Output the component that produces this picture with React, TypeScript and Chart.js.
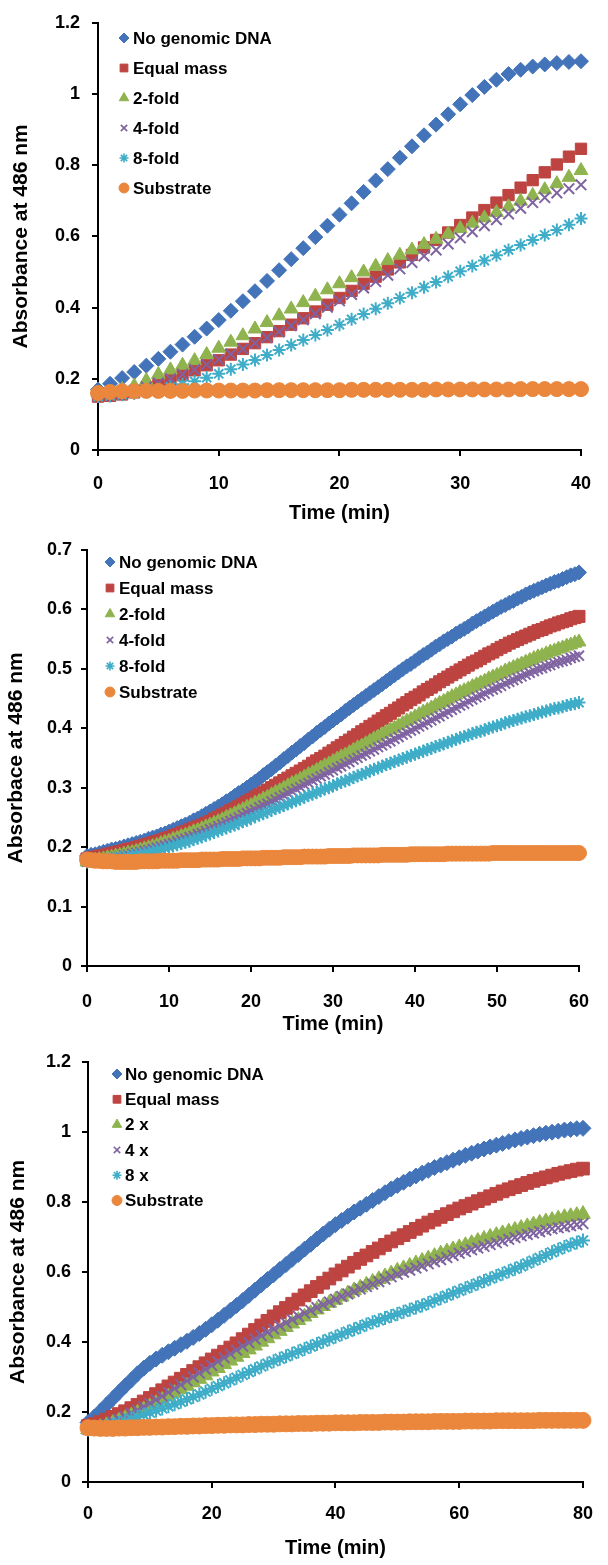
import React, { useEffect, useRef } from "react";
import { Chart, registerables } from "chart.js";
import { drawPoint } from "chart.js/helpers";

Chart.register(...registerables);

const FONT = '"Liberation Sans", Arial, Helvetica, sans-serif';

// ---------- Panel 1: 0–40 min, one reading per minute ----------
const P1_TIME = Array.from({ length: 41 }, (_, i) => i);
const P1_NO_DNA = [.170, .186, .202, .219, .237, .256, .276, .296, .318, .341, .365,
  .391, .418, .446, .475, .505, .536, .567, .598, .630, .661,
  .693, .725, .757, .789, .821, .853, .884, .914, .943, .971,
  .997, 1.020, 1.040, 1.056, 1.068, 1.077, 1.083, 1.087, 1.090, 1.092];
const P1_EQUAL = [.150, .152, .156, .162, .172, .183, .196, .210, .224, .238, .252,
  .268, .284, .300, .317, .334, .352, .370, .389, .408, .427,
  .447, .467, .487, .507, .527, .548, .569, .590, .611, .632,
  .653, .674, .695, .716, .737, .758, .780, .802, .824, .846];
const P1_FOLD2 = [.160, .163, .170, .180, .195, .212, .225, .238, .251, .268, .286,
  .303, .321, .340, .358, .377, .396, .414, .432, .450, .467,
  .484, .500, .516, .532, .547, .562, .577, .592, .607, .622,
  .637, .652, .667, .683, .699, .715, .731, .748, .766, .785];
const P1_FOLD4 = [.155, .158, .162, .168, .177, .188, .200, .213, .226, .240, .254,
  .269, .284, .300, .316, .332, .349, .366, .383, .401, .419,
  .437, .455, .473, .491, .509, .527, .545, .562, .579, .596,
  .613, .630, .647, .663, .679, .695, .709, .722, .734, .745];
const P1_FOLD8 = [.150, .152, .155, .159, .164, .170, .177, .185, .193, .203, .214,
  .227, .240, .253, .267, .281, .295, .309, .323, .337, .352,
  .367, .382, .397, .412, .427, .442, .457, .472, .487, .502,
  .517, .532, .547, .562, .576, .590, .604, .618, .633, .650];
const P1_SUBSTRATE = [.160, .163, .165, .165, .166, .166, .166, .166, .167, .167, .167,
  .167, .167, .167, .168, .168, .168, .168, .168, .168, .168,
  .169, .169, .169, .169, .169, .169, .169, .170, .170, .170,
  .170, .170, .170, .170, .171, .171, .171, .171, .171, .171];

// ---------- Panel 2: 0–60 min, one reading every 0.5 min ----------
const P2_TIME = Array.from({ length: 121 }, (_, i) => i * 0.5);
const P2_NO_DNA = [.185, .187, .188, .190, .192, .194, .196, .197, .199, .201, .203, .205, .207,
  .209, .211, .214, .216, .218, .221, .223, .226, .229, .232, .235, .238,
  .241, .245, .248, .252, .256, .260, .264, .268, .272, .277, .281, .286,
  .291, .295, .300, .305, .310, .315, .321, .326, .331, .337, .342, .348,
  .353, .359, .364, .370, .375, .381, .386, .392, .397, .402, .408, .413,
  .418, .423, .429, .434, .439, .444, .449, .454, .459, .464, .469, .474,
  .479, .484, .489, .494, .499, .504, .508, .513, .518, .523, .527, .532,
  .537, .541, .546, .550, .554, .559, .563, .567, .571, .576, .580, .584,
  .588, .592, .596, .600, .604, .607, .611, .614, .618, .621, .625, .628,
  .631, .634, .637, .640, .643, .646, .648, .651, .654, .657, .659, .662];
const P2_EQUAL = [.180, .182, .183, .185, .186, .188, .189, .191, .192, .194, .196, .197, .199,
  .201, .203, .205, .207, .209, .211, .214, .216, .219, .221, .224, .226,
  .229, .232, .234, .237, .240, .243, .247, .250, .254, .257, .261, .264,
  .268, .272, .276, .280, .284, .288, .292, .296, .300, .304, .308, .312,
  .316, .320, .324, .328, .332, .336, .341, .345, .349, .353, .358, .362,
  .367, .371, .376, .380, .385, .389, .394, .398, .403, .407, .412, .416,
  .421, .425, .430, .434, .439, .443, .448, .452, .456, .461, .465, .469,
  .473, .478, .482, .486, .490, .494, .498, .502, .506, .510, .513, .517,
  .521, .525, .528, .532, .536, .539, .543, .546, .549, .552, .555, .558,
  .561, .564, .566, .569, .572, .574, .577, .579, .581, .584, .586, .588];
const P2_FOLD2 = [.175, .176, .178, .179, .180, .182, .183, .185, .186, .188, .190, .191, .193,
  .195, .197, .199, .201, .203, .206, .208, .210, .213, .215, .218, .220,
  .223, .226, .228, .231, .234, .237, .240, .243, .246, .250, .253, .256,
  .260, .263, .267, .270, .274, .277, .281, .284, .288, .292, .295, .299,
  .303, .307, .310, .314, .318, .322, .325, .329, .333, .337, .340, .344,
  .348, .352, .355, .359, .363, .367, .370, .374, .378, .382, .385, .389,
  .393, .397, .400, .404, .408, .412, .415, .419, .423, .427, .430, .434,
  .438, .442, .445, .449, .453, .456, .460, .463, .466, .470, .473, .476,
  .479, .483, .486, .489, .492, .496, .499, .502, .505, .508, .511, .514,
  .517, .520, .522, .525, .528, .530, .533, .535, .538, .540, .543, .545];
const P2_FOLD4 = [.175, .176, .177, .178, .179, .180, .181, .183, .184, .186, .187, .189, .190,
  .192, .194, .195, .197, .199, .201, .203, .205, .207, .210, .212, .214,
  .217, .219, .222, .224, .227, .230, .232, .235, .238, .241, .244, .247,
  .250, .254, .257, .260, .263, .267, .270, .273, .277, .280, .284, .287,
  .291, .294, .298, .301, .305, .308, .312, .315, .319, .322, .326, .329,
  .333, .336, .340, .343, .347, .350, .354, .357, .361, .364, .368, .371,
  .375, .378, .382, .385, .389, .392, .396, .399, .403, .406, .410, .413,
  .417, .420, .424, .427, .431, .434, .438, .441, .445, .448, .452, .455,
  .458, .462, .465, .468, .471, .475, .478, .481, .484, .487, .490, .493,
  .496, .499, .501, .504, .506, .509, .511, .513, .515, .518, .520, .522];
const P2_FOLD8 = [.175, .176, .176, .177, .178, .179, .180, .181, .182, .183, .184, .186, .187,
  .188, .190, .191, .193, .195, .196, .198, .200, .202, .204, .206, .208,
  .210, .213, .215, .217, .220, .222, .225, .227, .230, .232, .235, .237,
  .240, .243, .245, .248, .251, .254, .256, .259, .262, .265, .267, .270,
  .273, .276, .278, .281, .284, .287, .289, .292, .295, .298, .300, .303,
  .306, .309, .311, .314, .317, .320, .322, .325, .328, .331, .333, .336,
  .339, .341, .344, .346, .349, .351, .354, .356, .359, .361, .364, .366,
  .369, .371, .374, .376, .379, .381, .384, .386, .388, .391, .393, .395,
  .397, .400, .402, .404, .406, .409, .411, .413, .415, .417, .419, .421,
  .423, .425, .427, .429, .431, .433, .434, .436, .438, .440, .441, .443];
const P2_SUBSTRATE = [.179, .178, .177, .177, .176, .176, .176, .175, .175, .175, .175, .175, .175,
  .176, .176, .176, .176, .176, .177, .177, .177, .177, .177, .178, .178,
  .178, .178, .178, .179, .179, .179, .179, .179, .180, .180, .180, .180,
  .180, .181, .181, .181, .181, .181, .182, .182, .182, .182, .182, .183,
  .183, .183, .183, .183, .184, .184, .184, .184, .184, .184, .185, .185,
  .185, .185, .185, .185, .186, .186, .186, .186, .186, .186, .186, .187,
  .187, .187, .187, .187, .187, .187, .188, .188, .188, .188, .188, .188,
  .188, .188, .188, .189, .189, .189, .189, .189, .189, .189, .189, .189,
  .189, .189, .190, .190, .190, .190, .190, .190, .190, .190, .190, .190,
  .190, .190, .190, .190, .190, .190, .190, .190, .190, .190, .190, .190];

// ---------- Panel 3: 0–80 min, one reading per minute ----------
const P3_TIME = Array.from({ length: 81 }, (_, i) => i);
const P3_NO_DNA = [.170, .185, .202, .220, .238, .256, .274, .291, .309, .325, .339,
  .351, .362, .372, .382, .392, .402, .413, .424, .436, .449,
  .462, .476, .490, .504, .518, .533, .548, .563, .578, .592,
  .607, .621, .636, .650, .665, .679, .694, .708, .722, .735,
  .747, .759, .771, .782, .793, .804, .815, .826, .837, .847,
  .856, .865, .874, .882, .890, .898, .905, .912, .919, .926,
  .933, .939, .945, .951, .957, .962, .967, .972, .977, .981,
  .985, .989, .993, .996, .999, 1.002, 1.005, 1.007, 1.009, 1.010];
const P3_EQUAL = [.160, .165, .171, .178, .186, .194, .202, .211, .220, .230, .240,
  .251, .262, .273, .284, .295, .306, .317, .328, .339, .350,
  .361, .372, .384, .396, .408, .421, .434, .447, .460, .473,
  .485, .497, .509, .521, .533, .545, .557, .569, .581, .593,
  .604, .615, .626, .637, .647, .657, .667, .677, .687, .696,
  .705, .714, .723, .732, .741, .749, .757, .765, .773, .781,
  .788, .795, .802, .809, .816, .823, .830, .836, .842, .848,
  .854, .860, .865, .870, .875, .880, .884, .888, .892, .895];
const P3_X2 = [.150, .153, .157, .162, .168, .175, .182, .190, .198, .207, .216,
  .225, .234, .244, .254, .264, .274, .284, .294, .304, .315,
  .325, .336, .346, .357, .368, .378, .389, .400, .410, .421,
  .431, .442, .452, .462, .472, .482, .492, .502, .511, .520,
  .529, .538, .547, .555, .563, .571, .579, .587, .595, .603,
  .610, .617, .624, .631, .638, .645, .652, .658, .664, .670,
  .676, .682, .688, .694, .700, .705, .710, .715, .720, .725,
  .730, .735, .740, .744, .748, .752, .756, .759, .762, .765];
const P3_X4 = [.150, .153, .158, .164, .171, .179, .187, .196, .205, .215, .225,
  .235, .245, .256, .267, .278, .289, .300, .311, .322, .333,
  .344, .355, .366, .377, .388, .398, .408, .418, .428, .437,
  .446, .455, .464, .473, .482, .490, .498, .506, .514, .522,
  .530, .537, .544, .551, .558, .565, .572, .579, .586, .593,
  .599, .605, .611, .617, .623, .629, .635, .641, .647, .653,
  .658, .663, .668, .673, .678, .683, .688, .693, .698, .703,
  .707, .711, .715, .719, .723, .726, .729, .732, .735, .738];
const P3_X8 = [.150, .152, .155, .159, .164, .169, .174, .180, .186, .192, .198,
  .204, .210, .216, .222, .229, .236, .243, .250, .258, .266,
  .274, .282, .290, .298, .306, .314, .322, .330, .338, .345,
  .352, .359, .366, .373, .380, .387, .394, .401, .408, .415,
  .422, .429, .436, .443, .450, .456, .462, .468, .474, .480,
  .486, .492, .498, .504, .511, .518, .525, .532, .539, .546,
  .553, .560, .567, .574, .581, .588, .595, .602, .609, .616,
  .624, .632, .640, .648, .656, .664, .671, .678, .684, .690];
const P3_SUBSTRATE = [.155, .154, .153, .153, .153, .154, .154, .155, .155, .156, .156,
  .157, .157, .158, .158, .159, .159, .160, .160, .161, .161,
  .162, .162, .163, .163, .163, .164, .164, .165, .165, .165,
  .166, .166, .166, .167, .167, .167, .168, .168, .168, .169,
  .169, .169, .169, .170, .170, .170, .170, .171, .171, .171,
  .171, .172, .172, .172, .172, .173, .173, .173, .173, .173,
  .174, .174, .174, .174, .174, .175, .175, .175, .175, .175,
  .175, .175, .176, .176, .176, .176, .176, .176, .176, .176];

const LABELS_FOLD = ["No genomic DNA", "Equal mass", "2-fold", "4-fold", "8-fold", "Substrate"];
const LABELS_X = ["No genomic DNA", "Equal mass", "2 x", "4 x", "8 x", "Substrate"];

const COLORS = ["#4374B9", "#BD4440", "#8FB34E", "#7F63A1", "#3FADC8", "#EA873C"];
const STYLES = ["rectRot", "rect", "triangle", "crossRot", "star", "circle"];
const LINE_STYLES = new Set(["crossRot", "star", "cross"]);

const insideLegend = {
  id: "insideLegend",
  afterDraw(chart: any, _args: any, opts: any) {
    const ctx = chart.ctx;
    ctx.save();
    chart.data.datasets.forEach((ds: any, i: number) => {
      const y = opts.y + i * opts.rowH;
      const lineStyle = LINE_STYLES.has(ds.pointStyle);
      ctx.fillStyle = ds.pointBackgroundColor;
      ctx.strokeStyle = ds.pointBorderColor;
      ctx.lineWidth = lineStyle ? 1.6 : 1;
      drawPoint(ctx, { pointStyle: ds.pointStyle, radius: opts.radii[i], borderWidth: ctx.lineWidth, rotation: 0 } as any, opts.x, y);
      ctx.fillStyle = "#000";
      ctx.font = `bold ${opts.fontSize}px ${FONT}`;
      ctx.textAlign = "left";
      ctx.textBaseline = "middle";
      ctx.fillText(ds.label, opts.textX, y + 1);
    });
    ctx.restore();
  },
};

type Panel = {
  top: number;
  height: number;
  times: number[];
  series: number[][];
  labels: string[];
  xMax: number;
  xStep: number;
  yMax: number;
  yStep: number;
  yTitle: string;
  radii: number[];
  pad: { top: number; right: number };
  yWidth: number;
  xHeight: number;
  xTickPad: number;
  yTickPad: number;
  xTitlePad: number;
  yTitlePad: number;
  legend: { x: number; textX: number; y: number; rowH: number; radii: number[]; fontSize: number };
};

const PANELS: Panel[] = [
  {
    top: 0, height: 530, times: P1_TIME,
    series: [P1_NO_DNA, P1_EQUAL, P1_FOLD2, P1_FOLD4, P1_FOLD8, P1_SUBSTRATE],
    labels: LABELS_FOLD, xMax: 40, xStep: 10, yMax: 1.2, yStep: 0.2,
    yTitle: "Absorbance at 486 nm",
    radii: [7.5, 8, 8, 7.5, 6.5, 7.5],
    pad: { top: 13, right: 18 }, yWidth: 98, xHeight: 80,
    xTickPad: 17, yTickPad: 12, xTitlePad: 5, yTitlePad: 9,
    legend: { x: 124, textX: 133, y: 38, rowH: 30, radii: [5, 5.5, 5.5, 4.5, 4.5, 5], fontSize: 17 },
  },
  {
    top: 530, height: 510, times: P2_TIME,
    series: [P2_NO_DNA, P2_EQUAL, P2_FOLD2, P2_FOLD4, P2_FOLD8, P2_SUBSTRATE],
    labels: LABELS_FOLD, xMax: 60, xStep: 10, yMax: 0.7, yStep: 0.1,
    yTitle: "Absorbace at 486 nm",
    radii: [7.5, 8.5, 8, 7, 6.5, 7.5],
    pad: { top: 17, right: 26 }, yWidth: 87, xHeight: 74,
    xTickPad: 19, yTickPad: 9, xTitlePad: 4, yTitlePad: 4,
    legend: { x: 110, textX: 119, y: 32, rowH: 26, radii: [5, 5.5, 5.5, 4.5, 4.5, 5], fontSize: 17 },
  },
  {
    top: 1040, height: 525, times: P3_TIME,
    series: [P3_NO_DNA, P3_EQUAL, P3_X2, P3_X4, P3_X8, P3_SUBSTRATE],
    labels: LABELS_X, xMax: 80, xStep: 20, yMax: 1.2, yStep: 0.2,
    yTitle: "Absorbance at 486 nm",
    radii: [8, 9, 8.5, 7.5, 7, 8],
    pad: { top: 15, right: 14 }, yWidth: 88, xHeight: 83,
    xTickPad: 15, yTickPad: 11, xTitlePad: 5, yTitlePad: 6,
    legend: { x: 117, textX: 125, y: 34, rowH: 25.3, radii: [5, 5.5, 5.5, 4.5, 4.5, 5], fontSize: 17 },
  },
];

function fmt(v: number | string) {
  return String(Number(Number(v).toFixed(2)));
}

function buildConfig(p: Panel): any {
  const tickFont = { family: FONT, size: 18, weight: "bold" as const };
  const xTitleFont = { family: FONT, size: 20, weight: "bold" as const };
  const yTitleFont = { family: FONT, size: 21, weight: "bold" as const };
  return {
    type: "scatter",
    data: {
      datasets: p.series.map((vals, i) => {
        const lineStyle = LINE_STYLES.has(STYLES[i]);
        return {
          label: p.labels[i],
          data: p.times.map((t, k) => ({ x: t, y: vals[k] })),
          pointStyle: STYLES[i],
          pointRadius: p.radii[i],
          pointBackgroundColor: COLORS[i],
          pointBorderColor: COLORS[i],
          pointBorderWidth: lineStyle ? 2 : 1,
          showLine: false,
          clip: false,
          order: 5 - i,
        };
      }),
    },
    plugins: [insideLegend],
    options: {
      responsive: false,
      maintainAspectRatio: false,
      devicePixelRatio: 1,
      animation: false,
      events: [],
      layout: { padding: { top: p.pad.top, right: p.pad.right, left: 0, bottom: 0 } },
      plugins: {
        legend: { display: false },
        tooltip: { enabled: false },
        insideLegend: p.legend,
      },
      scales: {
        x: {
          type: "linear",
          min: 0,
          max: p.xMax,
          afterFit: (s: any) => { s.height = p.xHeight; },
          ticks: { stepSize: p.xStep, color: "#000", font: tickFont, padding: p.xTickPad, maxRotation: 0, autoSkip: false, callback: fmt },
          grid: { display: true, drawOnChartArea: false, drawTicks: true, tickLength: 6, color: "#000", lineWidth: 2 },
          border: { display: true, color: "#000", width: 2 },
          title: { display: true, text: "Time (min)", color: "#000", font: xTitleFont, padding: { top: 0, bottom: p.xTitlePad } },
        },
        y: {
          type: "linear",
          min: 0,
          max: p.yMax,
          afterFit: (s: any) => { s.width = p.yWidth; },
          ticks: { stepSize: p.yStep, color: "#000", font: tickFont, padding: p.yTickPad, autoSkip: false, callback: fmt },
          grid: { display: true, drawOnChartArea: false, drawTicks: true, tickLength: 6, color: "#000", lineWidth: 2 },
          border: { display: true, color: "#000", width: 2 },
          title: { display: true, text: p.yTitle, color: "#000", font: yTitleFont, padding: { top: p.yTitlePad, bottom: 0 } },
        },
      },
    },
  };
}

function PanelChart({ panel }: { panel: Panel }) {
  const ref = useRef<HTMLCanvasElement | null>(null);
  useEffect(() => {
    if (!ref.current) return;
    const chart = new Chart(ref.current, buildConfig(panel));
    return () => chart.destroy();
  }, [panel]);
  return (
    <canvas
      ref={ref}
      width={608}
      height={panel.height}
      style={{ position: "absolute", left: 0, top: panel.top, width: 608, height: panel.height, display: "block" }}
    />
  );
}

export default function App() {
  return (
    <div style={{ position: "absolute", left: 0, top: 0, width: 608, height: 1565, background: "#fff" }}>
      {PANELS.map((p, i) => (
        <PanelChart key={i} panel={p} />
      ))}
    </div>
  );
}
